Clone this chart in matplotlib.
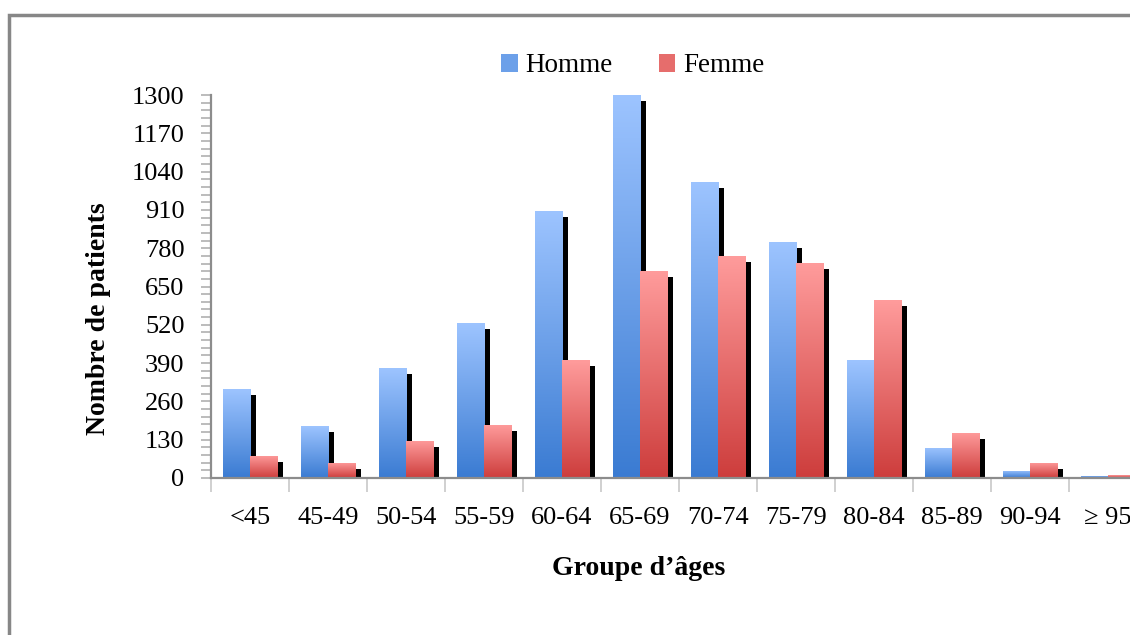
import matplotlib
matplotlib.use("Agg")
import matplotlib.pyplot as plt
import matplotlib.patheffects as pe
from matplotlib.colors import LinearSegmentedColormap
from matplotlib.patches import Rectangle
from matplotlib.ticker import MultipleLocator
import numpy as np

# donnees
groupes = ["<45", "45-49", "50-54", "55-59", "60-64", "65-69",
           "70-74", "75-79", "80-84", "85-89", "90-94", "\u2265 95"]
homme = [302, 176, 373, 526, 906, 1300, 1005, 801, 400, 102, 24, 7]
femme = [75, 51, 126, 180, 400, 703, 754, 730, 604, 153, 51, 10]
yticks = list(range(0, 1301, 130))

plt.rcParams['font.family'] = ['Liberation Serif', 'DejaVu Serif']

cmap_h = LinearSegmentedColormap.from_list("h", ["#3a7bd2", "#9dc4ff"])
cmap_f = LinearSegmentedColormap.from_list("f", ["#cd3d3c", "#ff9c9c"])

fig = plt.figure(figsize=(11.3, 6.35), dpi=100)
ax = fig.add_axes([211 / 1130, 157 / 635, 936 / 1130, 383 / 635])

x = np.arange(len(groupes))
w = 0.348
grad = np.linspace(0, 1, 256).reshape(-1, 1)
ombre = [pe.SimplePatchShadow(offset=(4.3, -4.3), shadow_rgbFace='black', alpha=1.0),
         pe.Normal()]


def barres(xs, vals, cmap, z):
    bars = ax.bar(xs, vals, w, color=cmap(0.5), zorder=z, linewidth=0)
    for b in bars:
        b.set_path_effects(ombre)
        x0, y0 = b.get_x(), b.get_y()
        im = ax.imshow(grad, cmap=cmap, origin='lower', aspect='auto',
                       extent=[x0, x0 + b.get_width(), y0, y0 + b.get_height()],
                       zorder=z + 0.05, interpolation='bicubic')
        im.set_clip_path(b)
    return bars


bh = barres(x - w / 2, homme, cmap_h, 2)
bf = barres(x + w / 2, femme, cmap_f, 2.2)

ax.set_xlim(-0.5, len(groupes) - 0.5)
ax.set_ylim(0, 1300)

ax.set_yticks(yticks)
ax.yaxis.set_minor_locator(MultipleLocator(26))
ax.set_xticks(x)
ax.set_xticklabels(groupes)
ax.set_xticks(np.arange(-0.5, len(groupes), 1), minor=True)
ax.tick_params(axis='x', which='major', length=0, pad=21, labelsize=19)
ax.tick_params(axis='x', which='minor', length=10, color='#c8c8c8', width=1.2)
ax.tick_params(axis='y', which='both', length=7, color='#b0b0b0', width=1.2,
               labelsize=19, pad=12)

for s in ['top', 'right']:
    ax.spines[s].set_visible(False)
for s in ['left', 'bottom']:
    ax.spines[s].set_color('#8c8c8c')
    ax.spines[s].set_linewidth(1.6)
    ax.spines[s].set_zorder(5)

ax.set_ylabel("Nombre de patients", fontsize=20, fontweight='bold')
ax.set_xlabel("Groupe d\u2019\u00e2ges", fontsize=20, fontweight='bold')
ax.yaxis.set_label_coords(-0.107, 0.415)
ax.xaxis.set_label_coords(0.457, -0.203)

h1 = Rectangle((0, 0), 1, 1, facecolor=cmap_h(0.5))
h2 = Rectangle((0, 0), 1, 1, facecolor=cmap_f(0.5))
fig.legend([h1, h2], ["Homme", "Femme"], loc='center', bbox_to_anchor=(633 / 1130, 1 - 66 / 635),
           ncol=2, frameon=False, fontsize=19.5, handlelength=0.6, handleheight=0.6,
           handletextpad=0.3, columnspacing=1.7)

# cadre gris autour du graphique
fig.patches.append(Rectangle((9 / 1130, -0.1), 2, 1.1 - 15 / 635, transform=fig.transFigure,
                             fill=False, edgecolor='#878787', linewidth=2.5))

fig.savefig("out.png", dpi=100)
